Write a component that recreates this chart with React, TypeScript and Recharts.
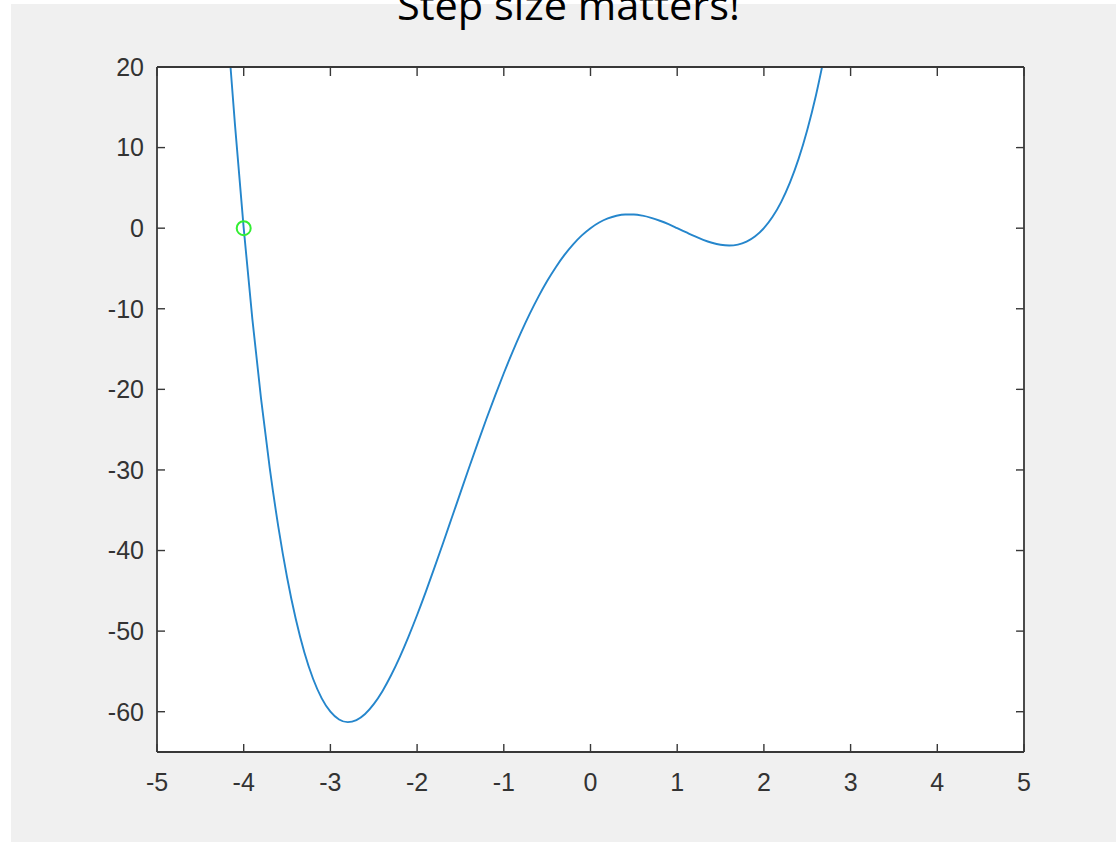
import React from "react";
import {
  LineChart,
  Line,
  XAxis,
  YAxis,
  CartesianGrid,
  ReferenceDot,
} from "recharts";

// Curve samples
const xValues = [
  -4.2, -4.15, -4.1, -4.0, -3.9, -3.8, -3.7, -3.6, -3.5, -3.4, -3.3, -3.2, -3.1,
  -3.0, -2.9, -2.8, -2.7, -2.6, -2.5, -2.4, -2.3, -2.2, -2.1, -2.0, -1.9, -1.8,
  -1.7, -1.6, -1.5, -1.4, -1.3, -1.2, -1.1, -1.0, -0.9, -0.8, -0.7, -0.6, -0.5,
  -0.4, -0.3, -0.2, -0.1, 0.0, 0.1, 0.2, 0.3, 0.4, 0.5, 0.6, 0.7, 0.8, 0.9, 1.0,
  1.1, 1.2, 1.3, 1.4, 1.5, 1.6, 1.7, 1.8, 1.9, 2.0, 2.1, 2.2, 2.3, 2.4, 2.5, 2.6,
  2.7,
];
const yValues = [
  27.08, 19.72, 12.76, 0, -11.28, -21.16, -29.74, -37.09, -43.31, -48.47, -52.65,
  -55.91, -58.34, -60.0, -60.96, -61.29, -61.04, -60.28, -59.06, -57.45, -55.48,
  -53.22, -50.71, -48.0, -45.13, -42.13, -39.06, -35.94, -32.81, -29.7, -26.64,
  -23.65, -20.77, -18.0, -15.37, -12.9, -10.6, -8.49, -6.56, -4.84, -3.32, -2.01,
  -0.9, 0, 0.7, 1.21, 1.54, 1.69, 1.69, 1.55, 1.28, 0.92, 0.49, 0, -0.5, -1.0,
  -1.45, -1.81, -2.06, -2.15, -2.04, -1.67, -1.01, 0, 1.41, 3.27, 5.65, 8.6,
  12.19, 16.47, 21.53,
];

// Start marker
const startX = [-4];
const startY = [0];

// Axis ticks
const xTicks = [-5, -4, -3, -2, -1, 0, 1, 2, 3, 4, 5];
const yTicks = [-60, -50, -40, -30, -20, -10, 0, 10, 20];
const xDomain = [-5, 5];
const yDomain = [-65, 20];

const titleText = "Step size matters!";

const data = xValues.map((x, i) => ({ x, y: yValues[i] }));

const axisColor = "#383838";
const axisLineStyle = { stroke: axisColor, strokeWidth: 1.8 };
const tickLineStyle = { stroke: axisColor, strokeWidth: 1.4 };
const tickFont = {
  fontFamily: "'Liberation Sans', Arial, Helvetica, sans-serif",
  fontSize: 25,
  fill: "#333333",
};
const NoLabel = () => <g />;

export default function App() {
  return (
    <div
      style={{
        position: "absolute",
        left: 0,
        top: 0,
        width: 1116,
        height: 842,
        background: "#ffffff",
        overflow: "hidden",
      }}
    >
      <div
        style={{
          position: "absolute",
          left: 11,
          top: 4,
          width: 1105,
          height: 838,
          background: "#f0f0f0",
        }}
      />
      <div style={{ position: "absolute", left: 0, top: 0 }}>
        <LineChart
          width={1116}
          height={842}
          data={data}
          margin={{ top: 67, right: 92, bottom: 50, left: 97 }}
        >
          <CartesianGrid
            horizontal={false}
            vertical={false}
            fill="#ffffff"
            stroke="none"
          />
          {/* bottom labels */}
          <XAxis
            xAxisId="bottom"
            dataKey="x"
            type="number"
            domain={xDomain}
            ticks={xTicks}
            orientation="bottom"
            height={40}
            tickSize={0}
            tickMargin={21}
            tick={tickFont}
            axisLine={false}
            tickLine={false}
            allowDataOverflow
            interval={0}
          />
          {/* bottom box edge with inner ticks */}
          <XAxis
            xAxisId="bottomTicks"
            dataKey="x"
            type="number"
            domain={xDomain}
            ticks={xTicks}
            orientation="bottom"
            mirror
            tickSize={8}
            tick={NoLabel}
            axisLine={axisLineStyle}
            tickLine={tickLineStyle}
            allowDataOverflow
            interval={0}
          />
          {/* top box edge with inner ticks */}
          <XAxis
            xAxisId="top"
            dataKey="x"
            type="number"
            domain={xDomain}
            ticks={xTicks}
            orientation="top"
            mirror
            tickSize={9}
            tick={NoLabel}
            axisLine={axisLineStyle}
            tickLine={tickLineStyle}
            allowDataOverflow
            interval={0}
          />
          {/* left labels */}
          <YAxis
            yAxisId="left"
            type="number"
            domain={yDomain}
            ticks={yTicks}
            orientation="left"
            width={60}
            tickSize={0}
            tickMargin={13}
            tick={tickFont}
            axisLine={false}
            tickLine={false}
            allowDataOverflow
            interval={0}
          />
          {/* left box edge with inner ticks */}
          <YAxis
            yAxisId="leftTicks"
            type="number"
            domain={yDomain}
            ticks={yTicks}
            orientation="left"
            mirror
            tickSize={8}
            tick={NoLabel}
            axisLine={axisLineStyle}
            tickLine={tickLineStyle}
            allowDataOverflow
            interval={0}
          />
          {/* right box edge with inner ticks */}
          <YAxis
            yAxisId="right"
            type="number"
            domain={yDomain}
            ticks={yTicks}
            orientation="right"
            mirror
            tickSize={8}
            tick={NoLabel}
            axisLine={axisLineStyle}
            tickLine={tickLineStyle}
            allowDataOverflow
            interval={0}
          />
          <Line
            xAxisId="bottom"
            yAxisId="left"
            dataKey="y"
            type="monotone"
            stroke="#2586cc"
            strokeWidth={1.9}
            dot={false}
            activeDot={false}
            isAnimationActive={false}
          />
          <ReferenceDot
            xAxisId="bottom"
            yAxisId="left"
            x={startX[0]}
            y={startY[0]}
            r={7}
            fill="none"
            stroke="#33ee33"
            strokeWidth={2}
          />
        </LineChart>
      </div>
      <svg
        width={1116}
        height={842}
        style={{ position: "absolute", left: 0, top: 0, pointerEvents: "none" }}
      >
        <text
          x={568.5}
          y={20}
          textAnchor="middle"
          textLength={343}
          lengthAdjust="spacingAndGlyphs"
          style={{
            fontFamily: "'Open Sans', 'Noto Sans', sans-serif",
            fontSize: 41,
            fill: "#000000",
          }}
        >
          {titleText}
        </text>
      </svg>
    </div>
  );
}
